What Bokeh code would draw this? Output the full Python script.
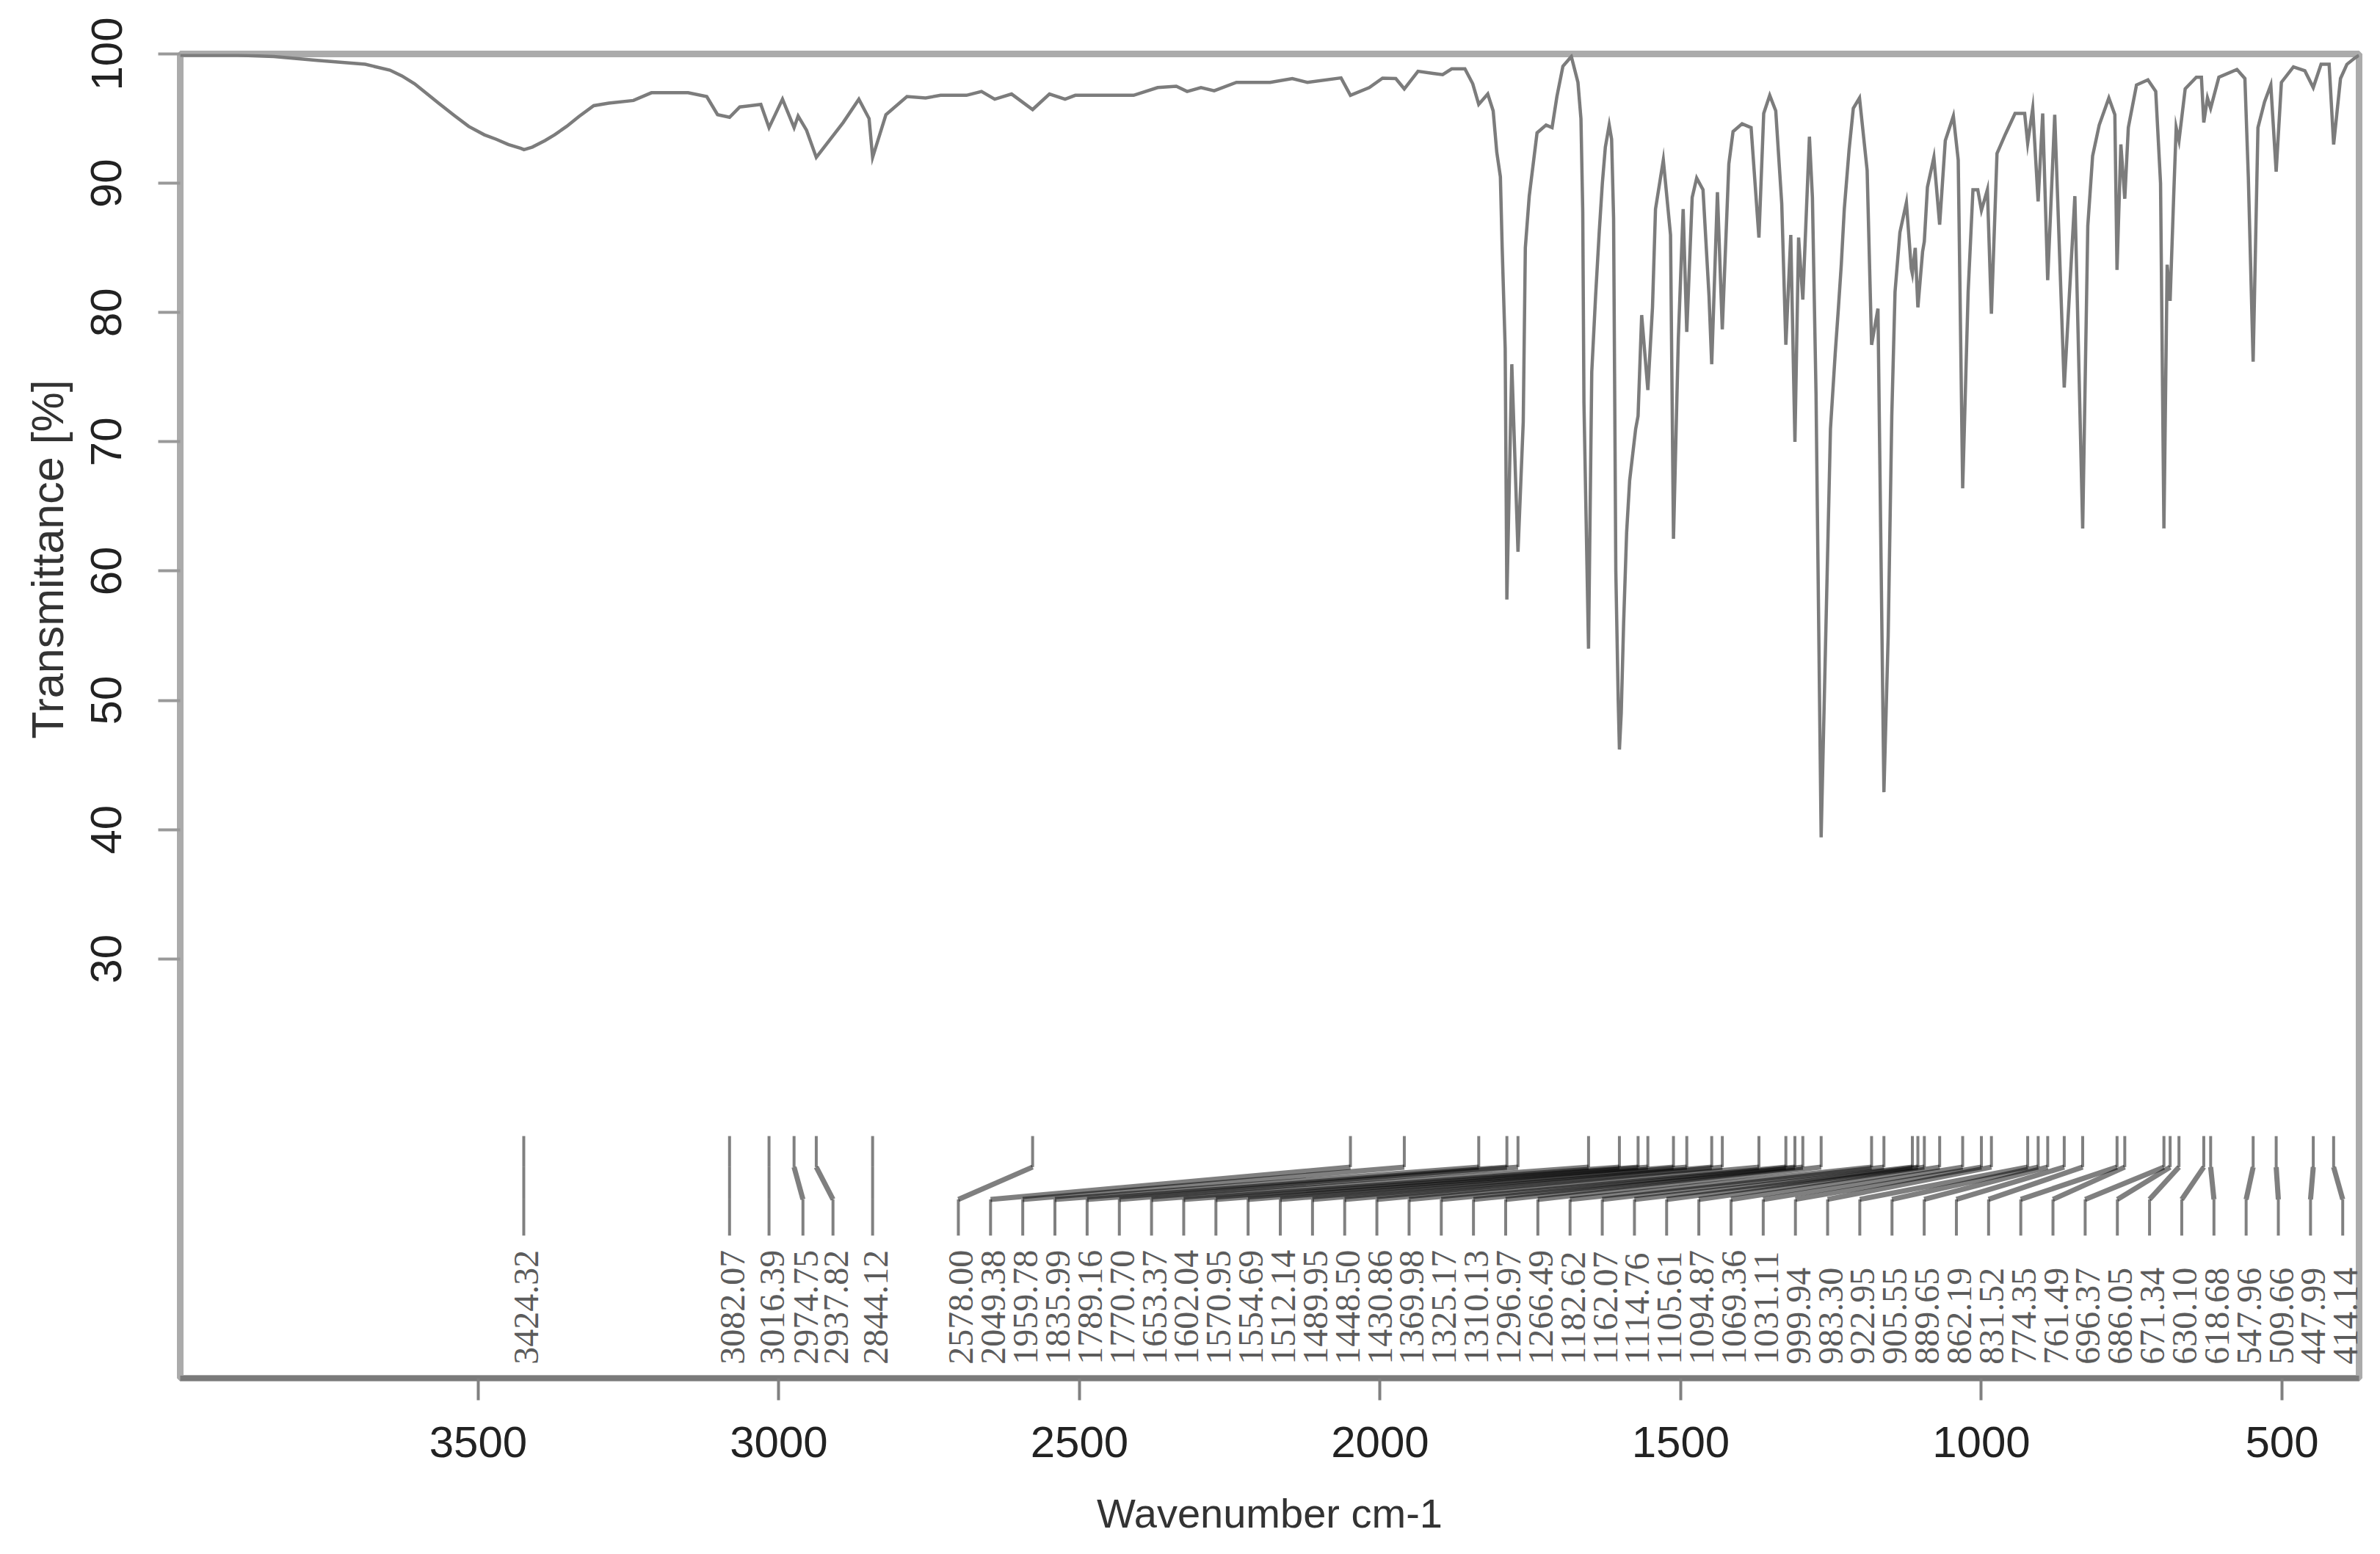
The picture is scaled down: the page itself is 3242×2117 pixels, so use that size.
import math

import numpy as np
from bokeh.embed import file_html
from bokeh.models import ColumnDataSource, FixedTicker, Range1d, Title
from bokeh.plotting import figure
from bokeh.resources import INLINE

# spectrum, high to low wavenumber
wavenumber = [
    3996, 3900, 3840, 3768, 3688, 3647, 3627, 3606, 3586, 3566, 3540, 3516, 3490, 3470, 3450, 3429, 3424, 3410, 3389,
    3373, 3353, 3333, 3308, 3283, 3242, 3212, 3151,
    3120, 3102, 3082, 3065, 3030, 3016.4, 2994, 2974.7, 2968, 2954, 2937.8, 2893, 2867, 2850, 2844.1, 2822, 2787,
    2756, 2731, 2688, 2663, 2641, 2613, 2578, 2550, 2524, 2507, 2445, 2410, 2370, 2339, 2321, 2298, 2276, 2239,
    2183, 2146, 2121, 2065, 2049.4, 2018, 1996, 1974, 1959.8, 1937, 1912, 1896, 1881, 1859, 1846, 1836, 1821,
    1812, 1806, 1800, 1797, 1792, 1789.2, 1781, 1770.7, 1762, 1758.5, 1752, 1739, 1724, 1714, 1706, 1696, 1682,
    1671, 1666, 1663, 1661, 1653.4, 1648, 1641.6, 1635.5, 1630.4, 1625.4, 1619, 1615, 1611.7, 1608, 1604, 1602, 1599,
    1595, 1590, 1585, 1575, 1571, 1565, 1554.7, 1547,
    1542, 1529, 1517, 1512.1, 1504, 1496, 1490, 1481, 1473.5, 1463, 1453, 1448.5, 1439, 1430.9, 1420, 1413, 1398,
    1383, 1370, 1362, 1352, 1342, 1332, 1325.2, 1317, 1310.1, 1304, 1297, 1286, 1281, 1275, 1266.5, 1251, 1243,
    1238, 1233, 1228, 1220, 1213, 1202.7, 1190, 1182.6, 1172, 1162.1, 1155, 1149, 1143.6, 1135.5, 1124.7, 1116.6,
    1114.8, 1110,
    1105.6, 1097.8, 1094.9, 1089.7, 1079, 1069.4, 1060, 1046.6, 1038.5, 1031.1, 1022, 1014, 1006, 999.9, 990,
    983.3, 974, 960, 944, 928, 923, 914.6, 905.6, 898, 889.7, 878, 862.2, 844.5, 831.5, 823, 815, 804, 788, 778,
    774.4, 768, 761.5, 755.6, 742, 723, 710, 702, 696.4, 691, 686.1, 680, 676, 671.3, 661, 642.5, 634, 630.1, 624,
    618.7, 605, 575, 561.7, 556, 548, 540, 529, 518.6, 509.7, 501, 481, 462, 448, 435, 421.6, 414.1, 402.7, 392,
    378.5, 372,
]
transmittance = [
    99.9, 99.9, 99.8, 99.5, 99.2, 98.75, 98.3, 97.7, 96.95, 96.2, 95.25, 94.4, 93.75, 93.4, 93, 92.7, 92.6, 92.8, 93.3,
    93.75, 94.4, 95.15, 96, 96.2, 96.4, 97, 97,
    96.7, 95.3, 95.1, 95.9, 96.1, 94.3, 96.5, 94.3, 95.2, 94.1, 92, 94.7, 96.5, 95, 92, 95.3, 96.7,
    96.6, 96.8, 96.8, 97.1, 96.5, 96.9, 95.7, 96.9, 96.5, 96.8, 96.8, 96.8, 97.4, 97.5, 97.1, 97.4, 97.15, 97.8,
    97.8, 98.1, 97.8, 98.15, 96.8, 97.4, 98.13, 98.1, 97.3, 98.66, 98.5, 98.4, 98.85, 98.85, 97.7, 96.1, 96.9,
    95.6, 92.4, 90.5, 85, 77.2, 57.8, 76, 61.5, 71.5, 85, 89, 93.9, 94.5, 94.3, 96.7, 99.05, 99.8,
    97.8, 95, 87.8, 73, 54, 75.4, 81.3, 86.3, 90, 92.8, 94.5, 93.4, 87.3, 60, 50, 46.2, 49,
    56, 63, 67, 71, 72, 79.8, 74, 80.4,
    88, 91.8, 86, 62.5, 78, 88, 78.5, 88.9, 90.4, 89.5, 81.3, 76, 89.3, 78.7, 91.5, 94, 94.6,
    94.3, 85.8, 95.4, 96.8, 95.6, 88.4, 77.5, 86, 70, 85.8, 81, 93.6, 88.9, 73.7, 39.4, 71, 76.9,
    80.2, 83.7, 88, 92.6, 95.8, 96.6, 91, 77.5, 80.3, 42.9, 55, 72, 81.6, 86.2, 88.5, 83.4,
    83, 85,
    80.4, 84.7, 85.5, 89.7, 92, 86.8, 93.3, 95.2, 91.8, 66.4, 81.6, 89.5, 89.5, 87.9, 89.5,
    79.9, 92.3, 93.8, 95.4, 95.4, 93.1, 95.8, 88.6, 95.4, 82.5, 95.3, 74.2, 89, 63.3, 86.7, 92.1, 94.5, 96.6, 95.3,
    83.3, 93, 88.8, 94.3, 97.6, 98, 97.1, 90, 63.3, 83.7, 80.9, 89.2, 94.3, 93.3, 97.3, 98.2, 98.2, 94.7, 96.6,
    95.8, 98.2, 98.8, 98.1, 90.5, 76.2, 94.3, 96.3, 97.6, 90.9, 97.8, 99, 98.7, 97.4, 99.2, 99.2, 93, 98.1, 99.2,
    99.7, 99.9,
]

peak_wn = [
    3424.32, 3082.07, 3016.39, 2974.75, 2937.82, 2844.12, 2578.00, 2049.38, 1959.78, 1835.99,
    1789.16, 1770.70, 1653.37, 1602.04, 1570.95, 1554.69, 1512.14, 1489.95, 1448.50, 1430.86,
    1369.98, 1325.17, 1310.13, 1296.97, 1266.49, 1182.62, 1162.07, 1114.76, 1105.61, 1094.87,
    1069.36, 1031.11, 999.94, 983.30, 922.95, 905.55, 889.65, 862.19, 831.52, 774.35,
    761.49, 696.37, 686.05, 671.34, 630.10, 618.68, 547.96, 509.66, 447.99, 414.14,
]
peak_labels = [f"{v:.2f}" for v in peak_wn]

x_ticks = [3500, 3000, 2500, 2000, 1500, 1000, 500]
y_ticks = [30, 40, 50, 60, 70, 80, 90, 100]

FONT = "Liberation Sans"

# label slots: the first few keep their own peak, the rest are spread out evenly
label_x = list(peak_wn[:6])
label_x[3] -= 14.75
label_x[4] -= 27.8
label_x += list(np.linspace(2701.5, 399, len(peak_wn) - 6))

# connector levels in y axis units
y_top, y_knee1, y_knee2, y_end, y_text = 16.3, 13.9, 11.4, 8.6, -1.37

p = figure(width=3234, height=2103, output_backend="svg", toolbar_location=None,
           x_range=Range1d(3995.7, 371.8), y_range=Range1d(-2.43, 100),
           x_axis_label="Wavenumber cm-1",
           min_border_left=245, min_border_right=21, min_border_top=73, min_border_bottom=226)

p.grid.visible = False
p.outline_line_color = "#ababab"
p.outline_line_width = 9

p.line(wavenumber, transmittance, color="#7c7c7c", line_width=4.5, line_join="miter")

# straight parts stay grey, the slanted parts pile up into the dark wedge
p.multi_line([[w, w] for w in peak_wn], [[y_top, y_knee1] for _ in peak_wn], color="#808080", line_width=4)
p.multi_line([[lx, lx] for lx in label_x], [[y_knee2, y_end] for _ in peak_wn], color="#808080", line_width=4)
moved = [(w, lx) for w, lx in zip(peak_wn, label_x) if w != lx]
still = [w for w, lx in zip(peak_wn, label_x) if w == lx]
p.multi_line([[w, lx] for w, lx in moved], [[y_knee1, y_knee2] for _ in moved],
             color="#000000", line_width=7, line_alpha=0.5)
p.multi_line([[w, w] for w in still], [[y_knee1, y_knee2] for _ in still], color="#808080", line_width=4)

labels = ColumnDataSource(dict(x=label_x, y=[y_text] * len(label_x), text=peak_labels))
p.text("x", "y", "text", source=labels, angle=math.pi / 2, text_align="left", text_baseline="middle",
       text_font=FONT, text_font_size="48px", text_color="#5c5c5c", x_offset=4)

for ax, ticks in ((p.xaxis[0], x_ticks), (p.yaxis[0], y_ticks)):
    ax.ticker = FixedTicker(ticks=ticks)
    ax.minor_tick_line_color = None
    ax.major_tick_in = 0
    ax.major_tick_out = 30
    ax.major_tick_line_width = 4
    ax.major_label_text_font = FONT
    ax.major_label_text_font_size = "60px"
    ax.major_label_text_color = "#222222"

p.xaxis.axis_line_color = "#7a7a7a"
p.xaxis.axis_line_width = 7
p.xaxis.major_tick_line_color = "#808080"
p.xaxis.major_label_standoff = 36
p.xaxis.axis_label_standoff = 42
p.xaxis.axis_label_text_font = FONT
p.xaxis.axis_label_text_font_size = "56px"
p.xaxis.axis_label_text_font_style = "normal"
p.xaxis.axis_label_text_color = "#333333"

p.yaxis.axis_line_color = None
p.yaxis.major_tick_line_color = "#999999"
p.yaxis.major_label_orientation = "vertical"
p.yaxis.major_label_standoff = 50

# the y label sits above the middle of the axis, a side title can be shifted along it
p.add_layout(Title(text="Transmittance [%]", align="left", offset=871, standoff=45, text_font=FONT,
                   text_font_size="61px", text_font_style="normal", text_color="#333333"), "left")

open("out.html", "w").write(file_html(p, INLINE))
